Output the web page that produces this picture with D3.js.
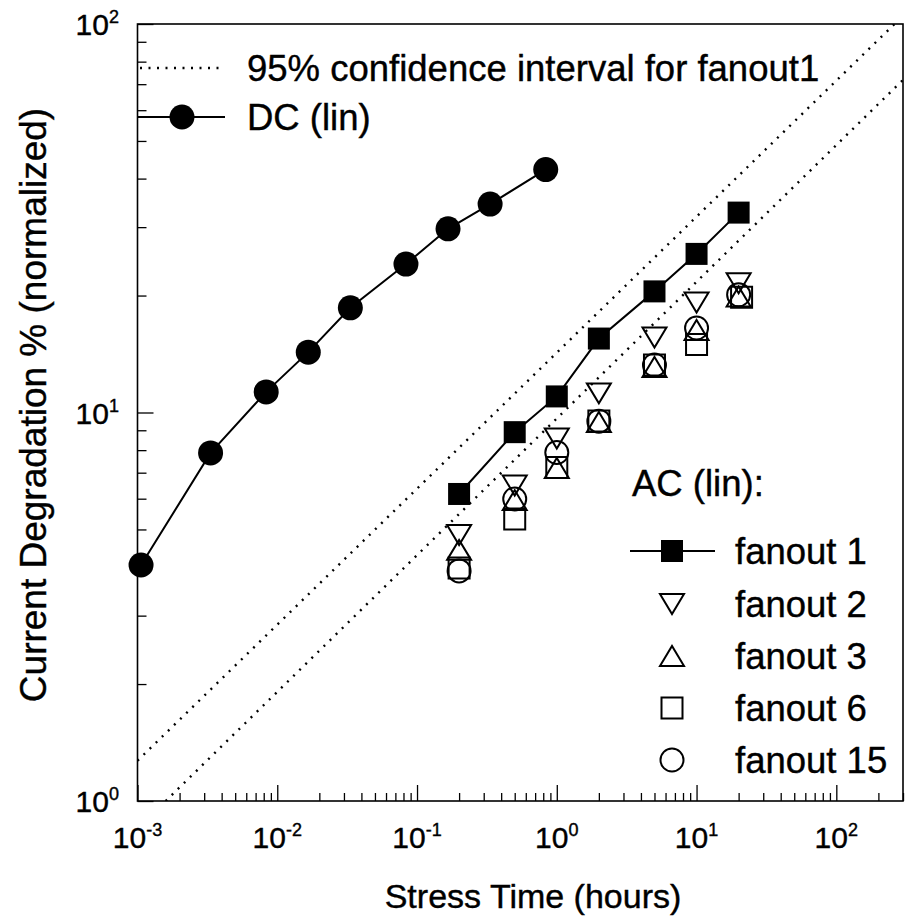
<!DOCTYPE html>
<html><head><meta charset="utf-8">
<script src="https://cdn.jsdelivr.net/npm/d3@7"></script>
<style>body{margin:0;background:#fff}svg{display:block}text{font-family:"Liberation Sans",Arial,Helvetica,sans-serif;fill:#000;stroke:#000;stroke-width:0.4px}</style>
</head><body>
<svg id="c" width="906" height="924"></svg>
<script>
// ---- data ----
const dcTime   = [0.00106, 1/300, 1/120, 1/60, 1/30, 1/12, 1/6, 1/3, 5/6];
const dcValue  = [4.05, 7.87, 11.3, 14.3, 18.6, 24.1, 29.7, 34.4, 42.2];
const acTime   = [0.2, 0.5, 1, 2, 5, 10, 20];
const fanout1  = [6.17, 8.9, 11.0, 15.5, 20.5, 25.6, 32.7];
const fanout2  = [4.84, 6.49, 8.57, 11.2, 15.6, 19.2, 21.5];
const fanout3  = [4.43, 5.95, 7.2, 9.45, 13.1, 16.3, 19.9];
const fanout6Time = [0.2, 0.5, 1, 2, 5, 10, 21];
const fanout6  = [3.98, 5.32, 7.22, 9.51, 13.25, 14.96, 19.8];
const fanout15 = [3.91, 5.99, 7.89, 9.5, 13.25, 16.5, 20.1];
const ciUpper  = [[0.001, 1.27], [300, 105]];
const ciLower  = [[0.00159, 1.0], [300, 71.8]];
const xMajor   = [1e-3, 1e-2, 1e-1, 1e0, 1e1, 1e2];
const xMajorExp = ["-3", "-2", "-1", "0", "1", "2"];
const yMajor   = [1, 10, 100];
const yMajorExp = ["0", "1", "2"];
const legendAC = ["fanout 1", "fanout 2", "fanout 3", "fanout 6", "fanout 15"];

// ---- layout ----
const L = 137.5, R = 903, T = 24, B = 801;
const svg = d3.select("#c");
const x = d3.scaleLog().domain([0.001, 300]).range([L, R]);
const y = d3.scaleLog().domain([1, 100]).range([B, T]);

svg.append("defs").append("clipPath").attr("id", "clip")
  .append("rect").attr("x", L).attr("y", T).attr("width", R - L).attr("height", B - T);

// minor ticks
const xMinor = [];
for (let e = -3; e <= 2; e++) for (let k = 2; k <= 9; k++) { const v = k * Math.pow(10, e); if (v <= 300) xMinor.push(v); }
const yMinor = [];
for (let e = 0; e <= 1; e++) for (let k = 2; k <= 9; k++) yMinor.push(k * Math.pow(10, e));

const axG = svg.append("g");
axG.append("g").attr("transform", `translate(0,${B})`)
  .call(d3.axisBottom(x).tickValues(xMinor).tickSize(-8).tickFormat(""))
  .call(g => g.select(".domain").remove());
axG.append("g").attr("transform", `translate(0,${B})`)
  .call(d3.axisBottom(x).tickValues(xMajor).tickSize(-16).tickFormat(""))
  .call(g => g.select(".domain").remove());
axG.append("g").attr("transform", `translate(${L},0)`)
  .call(d3.axisLeft(y).tickValues(yMinor).tickSize(-9).tickFormat(""))
  .call(g => g.select(".domain").remove());
axG.append("g").attr("transform", `translate(${L},0)`)
  .call(d3.axisLeft(y).tickValues(yMajor).tickSize(-16).tickFormat(""))
  .call(g => g.select(".domain").remove());
axG.selectAll("line").attr("stroke", "#000").attr("stroke-width", 1.3);

svg.append("rect").attr("x", L).attr("y", T).attr("width", R - L).attr("height", B - T)
  .attr("fill", "none").attr("stroke", "#000").attr("stroke-width", 1.6);

// tick labels
xMajor.forEach((v, i) => {
  const t = svg.append("text").attr("x", x(v)).attr("y", 848).attr("text-anchor", "middle").attr("font-size", 30);
  t.append("tspan").text("10");
  t.append("tspan").attr("font-size", 18).attr("dy", -12).text(xMajorExp[i]);
});
yMajor.forEach((v, i) => {
  const t = svg.append("text").attr("x", 119).attr("y", y(v) + 11).attr("text-anchor", "end").attr("font-size", 30);
  t.append("tspan").text("10");
  t.append("tspan").attr("font-size", 18).attr("dy", -12).text(yMajorExp[i]);
});

// axis titles
svg.append("text").attr("x", 533).attr("y", 908).attr("text-anchor", "middle").attr("font-size", 34)
  .text("Stress Time (hours)");
svg.append("text").attr("transform", "translate(46,405) rotate(-90)").attr("text-anchor", "middle").attr("font-size", 37)
  .text("Current Degradation % (normalized)");

// confidence lines
const plot = svg.append("g").attr("clip-path", "url(#clip)");
const lineGen = d3.line().x(d => x(d[0])).y(d => y(d[1]));
[ciUpper, ciLower].forEach(d => {
  plot.append("path").attr("d", lineGen(d)).attr("fill", "none").attr("stroke", "#000")
    .attr("stroke-width", 2.4).attr("stroke-dasharray", "2,6.5");
});

// DC series
const dcPts = dcTime.map((t, i) => [t, dcValue[i]]);
svg.append("path").attr("d", lineGen(dcPts)).attr("fill", "none").attr("stroke", "#000").attr("stroke-width", 2);
svg.selectAll(".dc").data(dcPts).join("circle").attr("cx", d => x(d[0])).attr("cy", d => y(d[1])).attr("r", 12.5).attr("fill", "#000");

// fanout1
const f1Pts = acTime.map((t, i) => [t, fanout1[i]]);
svg.append("path").attr("d", lineGen(f1Pts)).attr("fill", "none").attr("stroke", "#000").attr("stroke-width", 2);
const SQ = 22;
svg.selectAll(".f1").data(f1Pts).join("rect").attr("x", d => x(d[0]) - SQ / 2).attr("y", d => y(d[1]) - SQ / 2)
  .attr("width", SQ).attr("height", SQ).attr("fill", "#000");

// marker shapes (centered at 0,0)
const TW = 24, TH = 20;
const downTri = `M${-TW/2},${-TH/2}L${TW/2},${-TH/2}L0,${TH/2}Z`;
const upTri = `M${-TW/2},${TH/2}L${TW/2},${TH/2}L0,${-TH/2}Z`;
const sqPath = `M-10.5,-10.5H10.5V10.5H-10.5Z`;
const circPath = d3.arc()({innerRadius: 0, outerRadius: 11.5, startAngle: 0, endAngle: 2 * Math.PI});

function openSeries(times, vals, path) {
  svg.append("g").selectAll("path").data(times.map((t, i) => [t, vals[i]])).join("path")
    .attr("transform", d => `translate(${x(d[0])},${y(d[1])})`)
    .attr("d", path).attr("fill", "none").attr("stroke", "#000").attr("stroke-width", 2);
}
openSeries(acTime, fanout2, downTri);
openSeries(acTime, fanout3, upTri);
openSeries(fanout6Time, fanout6, sqPath);
openSeries(acTime, fanout15, circPath);

// top legend
const lg = svg.append("g");
lg.append("line").attr("x1", 140).attr("x2", 224).attr("y1", 68).attr("y2", 68)
  .attr("stroke", "#000").attr("stroke-width", 2.4).attr("stroke-dasharray", "2,6.5");
lg.append("text").attr("x", 247).attr("y", 81).attr("font-size", 36.5).text("95% confidence interval for fanout1");
lg.append("line").attr("x1", 137.5).attr("x2", 225).attr("y1", 117).attr("y2", 117).attr("stroke", "#000").attr("stroke-width", 2);
lg.append("circle").attr("cx", 182).attr("cy", 117).attr("r", 12.5).attr("fill", "#000");
lg.append("text").attr("x", 247).attr("y", 130).attr("font-size", 36.5).text("DC (lin)");

// AC legend
const ag = svg.append("g");
ag.append("text").attr("x", 632).attr("y", 496).attr("font-size", 36.5).text("AC (lin):");
const rowY = [551, 604, 656, 708, 760];
const legShapes = [null, downTri, upTri, sqPath, circPath];
legendAC.forEach((name, i) => {
  const cy = rowY[i];
  if (i === 0) {
    ag.append("line").attr("x1", 630).attr("x2", 715).attr("y1", cy).attr("y2", cy).attr("stroke", "#000").attr("stroke-width", 2);
    ag.append("rect").attr("x", 672 - SQ / 2).attr("y", cy - SQ / 2).attr("width", SQ).attr("height", SQ).attr("fill", "#000");
  } else {
    ag.append("path").attr("transform", `translate(672,${cy})`).attr("d", legShapes[i])
      .attr("fill", "none").attr("stroke", "#000").attr("stroke-width", 2);
  }
  ag.append("text").attr("x", 735).attr("y", cy + 13).attr("font-size", 36.5).text(name);
});
</script>
</body></html>
